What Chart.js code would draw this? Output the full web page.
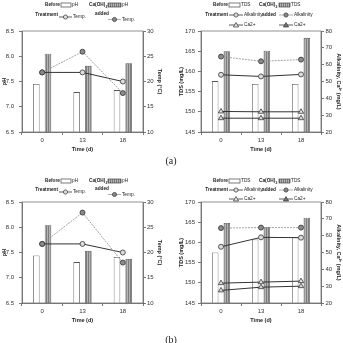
<!DOCTYPE html>
<html><head><meta charset="utf-8">
<script src="https://cdn.jsdelivr.net/npm/chart.js@4"></script>
<style>
html,body{margin:0;padding:0;}
body{width:343px;height:343px;background:#fff;position:relative;overflow:hidden;font-family:"Liberation Sans",Arial,sans-serif;}
canvas{position:absolute;}
.lab{position:absolute;font-family:"Liberation Serif","Times New Roman",serif;font-size:10px;color:#222;transform:translate(-50%,-50%);}
</style></head>
<body>
<script>
// ---------- data ----------
const timeLabels = ['0', '13', '18'];
// panel (a)
const phBeforeA   = [7.45, 7.29, 7.33];
const phAfterA    = [8.05, 7.81, 7.86];
const tempBeforeA = [21.8, 21.8, 20.0];
const tempAfterA  = [21.8, 25.9, 17.7];
const tdsBeforeA  = [157.6, 156.9, 156.9];
const tdsAfterA   = [165.0, 165.1, 168.3];
const alkBeforeA  = [54.0, 53.0, 54.2];
const alkAfterA   = [64.8, 62.0, 63.0];
const caBeforeA   = [28.2, 28.2, 28.2];
const caAfterA    = [32.2, 32.0, 32.0];
// panel (b)
const phBeforeB   = [7.44, 7.31, 7.41];
const phAfterB    = [8.04, 7.53, 7.37];
const tempBeforeB = [21.7, 21.7, 20.0];
const tempAfterB  = [21.7, 27.9, 18.0];
const tdsBeforeB  = [157.5, 160.7, 161.3];
const tdsAfterB   = [164.8, 163.8, 166.1];
const alkBeforeB  = [53.4, 59.0, 58.8];
const alkAfterB   = [64.5, 64.8, 64.8];
const caBeforeB   = [27.5, 29.4, 30.0];
const caAfterB    = [31.8, 32.4, 33.0];
// axis ranges
const phRange   = [6.5, 8.5, 0.5];
const tempRange = [10, 30, 5];
const tdsRange  = [145, 170, 5];
const alkRange  = [20, 80, 10];

// ---------- helpers ----------
function hatch(){
  const c=document.createElement('canvas'); c.width=2; c.height=2;
  const g=c.getContext('2d');
  g.fillStyle='#b4b4b4'; g.fillRect(0,0,2,2);
  g.fillStyle='#7c7c7c'; g.fillRect(0,0,1,2);
  return g.createPattern(c,'repeat');
}
const framePlugin = {
  id:'frame',
  afterDraw(chart){
    const a=chart.chartArea, c=chart.ctx;
    c.save(); c.strokeStyle='#777'; c.lineWidth=0.8;
    c.strokeRect(a.left,a.top,a.right-a.left,a.bottom-a.top);
    c.restore();
  }
};
function yScale(pos, range, title, width, pad, titlePad, dec){
  return {
    position:pos, min:range[0], max:range[1],
    ticks:{stepSize:range[2], padding:pad, color:'#333', font:{size:6, family:'Liberation Sans'},
      callback:(v)=> dec ? Number(v).toFixed(1) : String(v)},
    grid:{drawOnChartArea:false, drawTicks:true, tickLength:3, color:'#555', lineWidth:0.8},
    border:{color:'#555', width:0.8},
    title:{display:true, text:title, color:'#222', font:{size:5.5, weight:'bold', family:'Liberation Sans'}, padding:{top:titlePad,bottom:0}},
    afterFit:(s)=>{ s.width=width; }
  };
}
function xScale(){
  return {
    type:'category', offset:true,
    grid:{offset:true, drawOnChartArea:false, drawTicks:true, tickLength:3, color:'#555', lineWidth:0.8},
    border:{color:'#555', width:0.8},
    ticks:{padding:2, color:'#333', maxRotation:0, font:{size:6, family:'Liberation Sans'}},
    title:{display:true, text:'Time (d)', color:'#222', font:{size:5.5, weight:'bold', family:'Liberation Sans'}, padding:{top:0,bottom:1}},
    afterFit:(s)=>{ s.height=22; }
  };
}
function makeCanvas(left, top, w, h){
  const cv=document.createElement('canvas');
  cv.width=w; cv.height=h; cv.style.left=left+'px'; cv.style.top=top+'px';
  cv.style.width=w+'px'; cv.style.height=h+'px';
  document.body.appendChild(cv); return cv;
}
const barOpts = {categoryPercentage:0.58, barPercentage:0.56, borderColor:'#555', borderWidth:0.8, order:3, yAxisID:'y'};
function lineBefore(data, axis, style){
  return {type:'line', data, yAxisID:axis, borderColor:'#333', borderWidth:1, pointStyle:style||'circle',
    pointRadius:style==='triangle'?3:2.5, pointBackgroundColor:'#dcdcdc', pointBorderColor:'#333', pointBorderWidth:0.8, order:1};
}
function lineAfter(data, axis, style){
  const tri = style==='triangle';
  return {type:'line', data, yAxisID:axis, borderColor: tri?'#333':'#9a9a9a', borderWidth: tri?1:0.9, borderDash: tri?[]:[2,1],
    pointStyle:style||'circle', pointRadius:tri?3:2.5, pointBackgroundColor: tri?'#e4e4e4':'#8a8a8a', pointBorderColor:'#333', pointBorderWidth:0.8, order:0};
}
function baseOptions(scales){
  return {responsive:false, animation:false, devicePixelRatio:1,
    layout:{padding:{top:31,left:0,right:0,bottom:0}},
    plugins:{legend:{display:false}, tooltip:{enabled:false}},
    scales};
}
function phPanel(top, phB, phA, tB, tA){
  const cv=makeCanvas(0, top, 165, 154);
  new Chart(cv, {type:'bar', data:{labels:timeLabels, datasets:[
      Object.assign({data:phB, backgroundColor:'#fff'}, barOpts),
      Object.assign({data:phA, backgroundColor:hatch()}, barOpts),
      lineBefore(tB,'y2'), lineAfter(tA,'y2')]},
    options: baseOptions({x:xScale(), y:yScale('left', phRange, 'pH', 22, 5, 1.5, true),
      y2:yScale('right', tempRange, 'Temp (°C)', 22, 1, 2.4, false)}),
    plugins:[framePlugin]});
}
function tdsPanel(top, tdB, tdA, aB, aA, cB, cA){
  const cv=makeCanvas(176, top, 167, 154);
  new Chart(cv, {type:'bar', data:{labels:timeLabels, datasets:[
      Object.assign({data:tdB, backgroundColor:'#fff'}, barOpts),
      Object.assign({data:tdA, backgroundColor:hatch()}, barOpts),
      lineBefore(aB,'y2'), lineAfter(aA,'y2'),
      lineBefore(cB,'y2','triangle'), lineAfter(cA,'y2','triangle')]},
    options: baseOptions({x:xScale(), y:yScale('left', tdsRange, 'TDS (mg/L)', 25, 3, 2.4, false),
      y2:yScale('right', alkRange, 'Alkalinity, Ca²⁺ (mg/L)', 22, 1.5, 1, false)}),
    plugins:[framePlugin]});
}

phPanel(0, phBeforeA, phAfterA, tempBeforeA, tempAfterA);
tdsPanel(0, tdsBeforeA, tdsAfterA, alkBeforeA, alkAfterA, caBeforeA, caAfterA);
phPanel(171, phBeforeB, phAfterB, tempBeforeB, tempAfterB);
tdsPanel(171, tdsBeforeB, tdsAfterB, alkBeforeB, alkAfterB, caBeforeB, caAfterB);

// ---------- legends (canvas text) ----------
const lc = makeCanvas(0, 0, 343, 343);
const g = lc.getContext('2d');
const SX = 0.88;
function T(x, y, s, bold, right, size){
  g.save();
  g.font = (bold?'bold ':'') + (size||5.4) + 'px "Liberation Sans"';
  g.fillStyle = '#222'; g.textBaseline = 'middle'; g.textAlign = right ? 'right' : 'left';
  g.translate(x, y); g.scale(SX, 1); g.fillText(s, 0, 0);
  g.restore();
}
function caOH(x, y){
  g.save();
  g.font = 'bold 5.4px "Liberation Sans"'; g.fillStyle='#222'; g.textBaseline='middle';
  g.translate(x, y); g.scale(SX, 1);
  g.fillText('Ca(OH)', 0, 0);
  const w = g.measureText('Ca(OH)').width;
  g.font = 'bold 3.8px "Liberation Sans"';
  g.fillText('2', w + 0.3, 1.6);
  g.restore();
}
function SW(x, y, w, striped){
  g.save();
  if (striped){
    g.fillStyle = '#b4b4b4'; g.fillRect(x, y-2, w, 4);
    g.fillStyle = '#7c7c7c';
    for (let i = x; i < x + w; i += 2) g.fillRect(i, y-2, 1, 4);
  } else { g.fillStyle = '#fff'; g.fillRect(x, y-2, w, 4); }
  g.strokeStyle = '#444'; g.lineWidth = 0.7; g.strokeRect(x, y-2, w, 4);
  g.restore();
}
function IC(x, y, w, kind, after){
  g.save();
  g.strokeStyle = (kind==='tri' || !after) ? '#333' : '#9a9a9a';
  g.lineWidth = 0.8;
  g.beginPath(); g.moveTo(x, y); g.lineTo(x+w, y); g.stroke();
  const m = x + w/2;
  g.strokeStyle = '#333'; g.lineWidth = 0.7;
  if (kind === 'tri'){
    g.fillStyle = after ? '#777' : '#e4e4e4';
    g.beginPath(); g.moveTo(m, y-2.5); g.lineTo(m+2.6, y+2); g.lineTo(m-2.6, y+2); g.closePath();
    g.fill(); g.stroke();
  } else {
    g.fillStyle = after ? '#888' : '#dcdcdc';
    g.beginPath(); g.arc(m, y, 2.1, 0, Math.PI*2); g.fill(); g.stroke();
  }
  g.restore();
}
function phLegend(r1, rT, rTB, rAd, rTA){
  T(60, r1, 'Before', true, true); SW(61, r1, 10, false); T(72, r1, 'pH');
  caOH(89, r1); SW(108, r1, 13, true); T(122, r1, 'pH');
  T(58, rT, 'Treatment', true, true); IC(59, rTB, 13, 'circle', false); T(73, rTB, 'Temp.');
  T(95, rAd, 'added', true); IC(108, rTA, 13, 'circle', true); T(122, rTA, 'Temp.');
}
function tdsLegend(r1, r2, r3){
  T(228, r1, 'Before', true, true); SW(229, r1, 11, false); T(241, r1, 'TDS');
  caOH(259, r1); SW(279, r1, 11, true); T(291, r1, 'TDS');
  T(228, r2, 'Treatment', true, true); IC(229, r2, 14, 'circle', false); T(244, r2, 'Alkalinity');
  T(262, r2, 'added', true); IC(279, r2, 14, 'circle', true); T(294, r2, 'Alkalinity');
  IC(229, r3, 14, 'tri', false); T(244, r3, 'Ca2+');
  IC(279, r3, 14, 'tri', true); T(294, r3, 'Ca2+');
}
phLegend(5, 14.5, 17, 13.5, 19.5);
tdsLegend(5, 15, 25);
phLegend(181, 190, 192, 189, 194.5);
tdsLegend(181, 190, 199);

function label(x,y,s){
  const d=document.createElement('div'); d.className='lab'; d.textContent=s;
  d.style.left=x+'px'; d.style.top=y+'px'; document.body.appendChild(d);
}
label(171, 160, '(a)');
label(171, 339, '(b)');
</script>
</body></html>
